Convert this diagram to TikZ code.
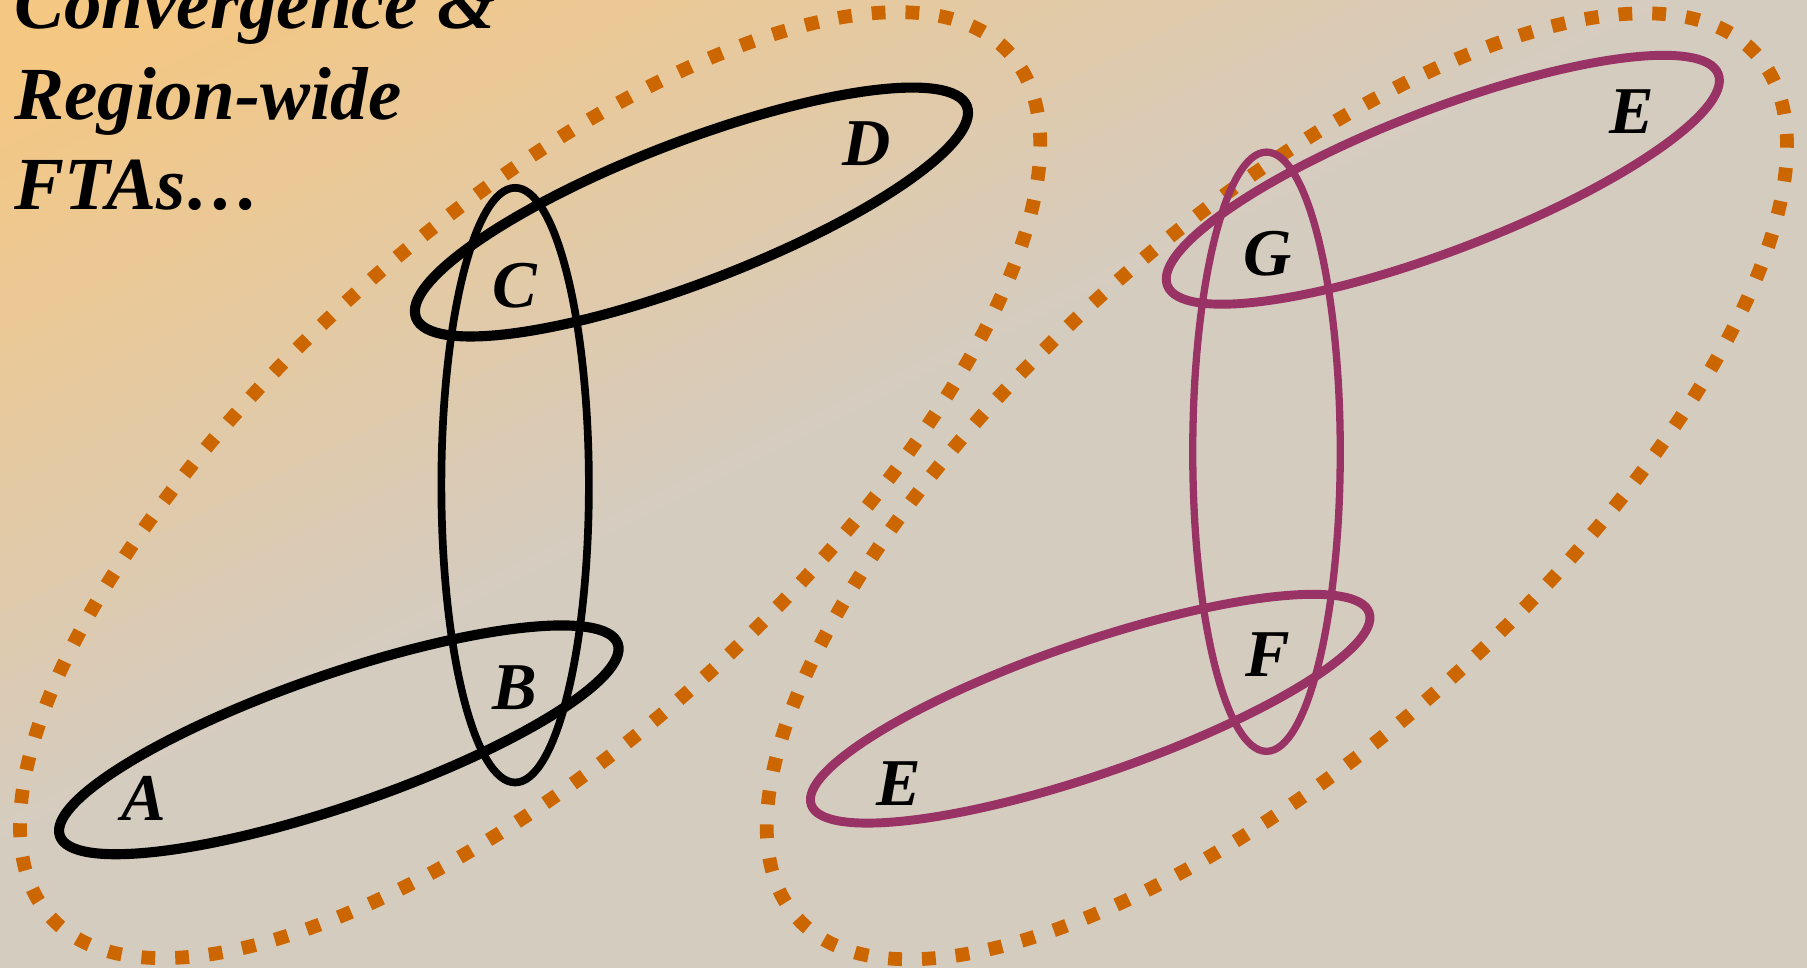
\documentclass[tikz,border=0pt]{standalone}
\usepackage{fontspec}
\setmainfont{Liberation Serif}
\definecolor{bgwarm}{HTML}{F4C783}
\definecolor{bgcool}{HTML}{D5CCC0}
\definecolor{dotorange}{HTML}{CC6600}
\definecolor{plum}{HTML}{993366}
\begin{document}
\begin{tikzpicture}[x=0.01cm,y=0.01cm,
  ring/.style={line width=2.5pt},
  slimring/.style={line width=1.9pt},
  dotring/.style={dotorange,line width=3.4pt,dash pattern=on 3.4pt off 4.94pt},
  lab/.style={font=\fontsize{16.5}{19}\selectfont\bfseries\itshape},
  headline/.style={anchor=base west,font=\fontsize{18.5}{22}\selectfont\bfseries\itshape}]
\useasboundingbox (0,0) rectangle (1568,840);
% background
\begin{scope}
\clip (0,0) rectangle (1568,840);
\fill[bgcool] (0,0) rectangle (1568,840);
\begin{scope}[rotate around={-63.4:(0,840)}]
\fill[bgwarm] (-300,300) rectangle (71,2400);
\foreach \k [evaluate=\k as \p using 2*\k] in {0,...,50}
  \fill[bgcool!\p!bgwarm] ({70+11.6*\k},300) rectangle ({82+11.6*\k},2400);
\end{scope}
\end{scope}
% title
\node[headline] (title1) at (0,815) {Convergence \&};
\node[headline] (title2) at (0,736) {Region-wide};
\node[headline] (title3) at (0,658) {FTAs\ldots};
% left group
\draw[dotring,rotate around={42:(460,419)}] (460,419) ellipse (560 and 225);
\draw[ring,rotate around={19:(294,198)}] (294,198) ellipse (256 and 57);
\draw[ring,rotate around={21:(600,656)}] (600,656) ellipse (256 and 61);
\draw[slimring] (447,419) ellipse (64 and 258);
\node[lab] (labA) at (125,147) {A};
\node[lab] (labB) at (447,243) {B};
\node[lab] (labC) at (447,592) {C};
\node[lab] (labD) at (752,715) {D};
% right group
\draw[dotring,rotate around={42:(1108,418)}] (1108,418) ellipse (560 and 225);
\draw[ring,plum,line width=2.2pt,rotate around={19:(946,225)}] (946,225) ellipse (256 and 57);
\draw[ring,plum,line width=2.2pt,rotate around={21:(1252,684)}] (1252,684) ellipse (256 and 61);
\draw[slimring,plum,line width=1.8pt] (1099,448) ellipse (64 and 260);
\node[lab] (labE) at (1416,743) {E};
\node[lab] (labG) at (1100,620) {G};
\node[lab] (labF) at (1100,272) {F};
\node[lab] (labEb) at (780,160) {E};
\end{tikzpicture}
\end{document}
